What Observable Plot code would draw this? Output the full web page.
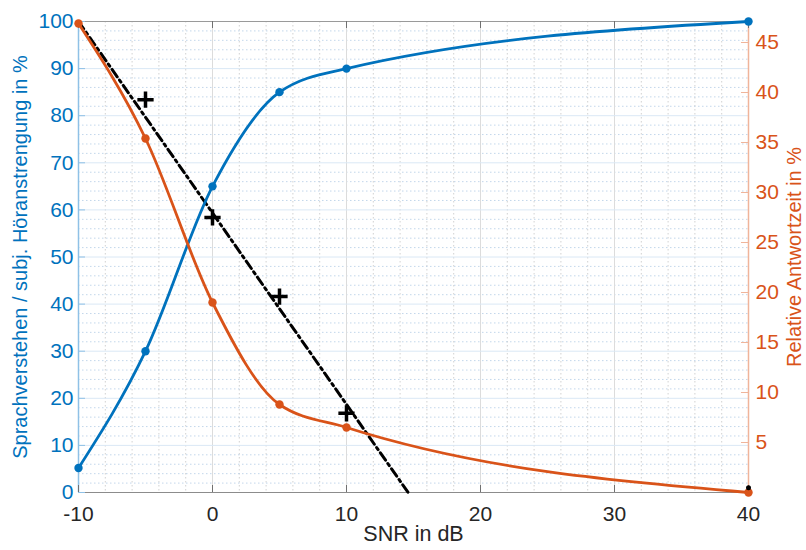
<!DOCTYPE html>
<html>
<head>
<meta charset="utf-8">
<script src="https://cdn.jsdelivr.net/npm/d3@7"></script>
<script src="https://cdn.jsdelivr.net/npm/@observablehq/plot@0.6"></script>
<style>
  html, body { margin: 0; padding: 0; background: #fff; }
  #chart svg { display: block; }
</style>
</head>
<body>
<div id="chart"></div>
<script>
// ---- data ----
const snr = [-10, -5, 0, 5, 10, 40];
const sprachverstehen = [5.2, 30, 65, 85, 90, 100];          // left axis, %
const antwortzeit = [46.9, 35.4, 19.0, 8.8, 6.5, 0];         // right axis, %
const plusX = [-5, 0, 5, 10];
const plusY = [83.4, 58.4, 41.6, 16.8];                       // subj. Höranstrengung, left axis
const fitX = [-10, 14.6];
const fitY = [100, 0];
const endX = [40];
const endY = [1];
const xTicks = [-10, 0, 10, 20, 30, 40];
const yTicks = [0, 10, 20, 30, 40, 50, 60, 70, 80, 90, 100];
const y2Ticks = [5, 10, 15, 20, 25, 30, 35, 40, 45];
const y2Max = 47.1;

const blue = "#0072BD";
const orange = "#D95319";
const k = 100 / y2Max; // right -> left units

const blueData = snr.map((x, i) => ({x, y: sprachverstehen[i]}));
const orangeData = snr.map((x, i) => ({x, y: antwortzeit[i] * k}));
const plusData = plusX.map((x, i) => ({x, y: plusY[i]}));
const fitData = fitX.map((x, i) => ({x, y: fitY[i]}));
const endData = endX.map((x, i) => ({x, y: endY[i]}));

const xMinor = d3.range(-10, 41, 2).filter(d => !xTicks.includes(d));
const yMinor = d3.range(0, 101, 2).filter(d => !yTicks.includes(d));

const tx = 7 / 13.4;   // 7px in x units
const ty = 7 / 4.71;   // 7px in y units

const chart = Plot.plot({
  width: 806,
  height: 550,
  marginLeft: 78,
  marginRight: 58,
  marginTop: 21,
  marginBottom: 58,
  style: {fontFamily: "'Liberation Sans', Arial, sans-serif", fontSize: "21px", background: "#fff"},
  x: {domain: [-10, 40]},
  y: {domain: [0, 100]},
  marks: [
    // grids
    Plot.gridX(xMinor, {stroke: "#bdbdbd", strokeOpacity: 0.7, strokeDasharray: "1.5,2.5"}),
    Plot.gridY(yMinor, {stroke: "#a9c6e3", strokeOpacity: 0.7, strokeDasharray: "1.5,2.5"}),
    Plot.gridX(xTicks, {stroke: "#dcdcdc", strokeOpacity: 1}),
    Plot.gridY(yTicks, {stroke: "#dae8f5", strokeOpacity: 1}),
    // frame lines
    Plot.ruleY([100], {stroke: "#9a9a9a", strokeWidth: 1}),
    Plot.ruleY([0], {stroke: "#8c8c8c", strokeWidth: 1.2}),
    Plot.ruleX([-10], {stroke: "#8fc1e6", strokeWidth: 1.5}),
    Plot.ruleX([40], {stroke: "#f0b49a", strokeWidth: 1.5}),
    // inward ticks
    Plot.ruleX(xTicks, {x: d => d, y1: 0, y2: ty, stroke: "#707070"}),
    Plot.ruleX(xTicks, {x: d => d, y1: 100 - ty, y2: 100, stroke: "#707070"}),
    Plot.ruleY(yTicks, {y: d => d, x1: -10, x2: -10 + tx, stroke: "#8fc1e6"}),
    Plot.ruleY(y2Ticks, {y: d => d * k, x1: 40 - tx, x2: 40, stroke: "#f0b49a"}),
    // axes (labels only)
    Plot.axisX(xTicks, {tickSize: 0, tickPadding: 14, color: "#262626", label: null, tickFormat: d => String(d)}),
    Plot.axisY(yTicks, {tickSize: 0, tickPadding: 5, color: blue, label: null, tickFormat: d => String(d)}),
    Plot.axisY(y2Ticks, {anchor: "right", y: d => d * k, tickFormat: d => String(d), tickSize: 0, tickPadding: 7, color: orange, label: null}),
    // axis titles
    Plot.text(["SNR in dB"], {frameAnchor: "bottom", dy: 48, fill: "#262626", fontSize: 21.5}),
    Plot.text(["Sprachverstehen / subj. Höranstrengung in %"], {frameAnchor: "left", dx: -58, rotate: -90, textAnchor: "middle", fill: blue, fontSize: 20}),
    Plot.text(["Relative Antwortzeit in %"], {frameAnchor: "right", dx: 46, rotate: -90, textAnchor: "middle", fill: orange, fontSize: 20}),
    // fit line
    Plot.line(fitData, {x: "x", y: "y", stroke: "#000", strokeWidth: 3, strokeDasharray: "9,4,2.5,4"}),
    // curves
    Plot.line(blueData, {x: "x", y: "y", stroke: blue, strokeWidth: 2.8, curve: "monotone-x"}),
    Plot.dot(blueData, {x: "x", y: "y", fill: blue, r: 4.2}),
    Plot.line(orangeData, {x: "x", y: "y", stroke: orange, strokeWidth: 2.8, curve: "monotone-x"}),
    Plot.dot(orangeData, {x: "x", y: "y", fill: orange, r: 4.2}),
    Plot.dot(endData, {x: "x", y: "y", fill: "#000", r: 2.5}),
    Plot.dot(plusData, {x: "x", y: "y", symbol: "plus", r: 5.3, stroke: "#000", strokeWidth: 3.5})
  ]
});
document.getElementById("chart").appendChild(chart);
</script>
</body>
</html>
